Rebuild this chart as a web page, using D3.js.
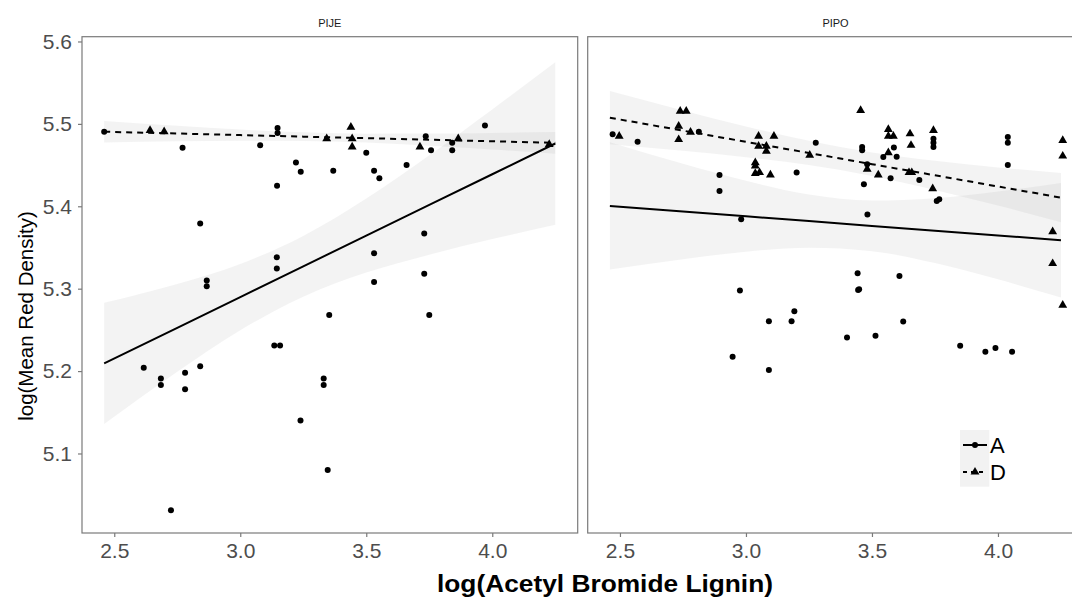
<!DOCTYPE html>
<html>
<head>
<meta charset="utf-8">
<script src="https://cdn.jsdelivr.net/npm/d3@7"></script>
<style>
  html, body { margin: 0; padding: 0; background: #fff; }
  svg { display: block; font-family: "Liberation Sans", Arial, sans-serif; }
</style>
</head>
<body>
<svg id="chart" width="1072" height="604"></svg>
<script>
// ---- data -------------------------------------------------------------
const panelNames = ["PIJE", "PIPO"];
const groupNames = ["A", "D"];
const xTickValues = [2.5, 3.0, 3.5, 4.0];
const yTickValues = [5.1, 5.2, 5.3, 5.4, 5.5, 5.6];

// PIJE observations: [log lignin, log mean red density]
const pijeA = [
  [2.460, 5.4905], [2.771, 5.471], [3.079, 5.474], [3.148, 5.495], [3.148, 5.489],
  [3.221, 5.453], [3.240, 5.442], [3.146, 5.425], [2.841, 5.379], [3.145, 5.338],
  [3.145, 5.3245], [3.500, 5.465], [3.369, 5.443], [3.531, 5.443], [3.552, 5.434],
  [3.660, 5.450], [3.736, 5.485], [3.757, 5.468], [3.841, 5.477], [3.841, 5.468],
  [3.971, 5.498], [3.730, 5.367], [3.531, 5.343], [3.730, 5.318], [2.867, 5.310],
  [2.867, 5.303], [3.353, 5.268], [3.135, 5.231], [3.158, 5.231], [2.617, 5.204],
  [2.685, 5.191], [2.685, 5.183], [2.781, 5.198], [2.781, 5.178], [2.841, 5.206],
  [3.331, 5.191], [3.331, 5.183], [3.239, 5.140], [3.347, 5.080], [2.725, 5.031],
  [3.531, 5.308], [3.750, 5.268]
];
const pijeD = [
  [2.642, 5.492], [2.698, 5.4905], [3.343, 5.482], [3.439, 5.496], [3.444, 5.482],
  [3.444, 5.472], [3.713, 5.472], [3.865, 5.482], [4.226, 5.475]
];

// PIPO observations
const pipoA = [
  [2.471, 5.4873], [2.570, 5.4784], [2.813, 5.4905], [2.895, 5.438], [2.895, 5.4185],
  [2.981, 5.3842], [3.201, 5.441], [3.277, 5.477], [3.461, 5.472], [3.461, 5.468],
  [3.481, 5.451], [3.468, 5.4267], [3.482, 5.390], [3.545, 5.4598], [3.574, 5.434],
  [3.587, 5.4712], [3.598, 5.4602], [3.688, 5.432], [3.744, 5.482], [3.744, 5.477],
  [3.744, 5.472], [3.757, 5.4064], [3.767, 5.4085], [4.039, 5.484], [4.039, 5.477],
  [4.039, 5.450], [3.443, 5.3188], [3.609, 5.3155], [3.445, 5.2985], [3.449, 5.2994],
  [3.624, 5.2603], [3.401, 5.2408], [3.514, 5.2428], [3.850, 5.2307], [3.950, 5.2234],
  [3.990, 5.2279], [4.056, 5.2234], [2.976, 5.2978], [3.192, 5.2727], [3.181, 5.2606],
  [3.091, 5.2606], [2.947, 5.2174], [3.091, 5.2012]
];
const pipoD = [
  [2.497, 5.4852], [2.739, 5.5155], [2.763, 5.5155], [2.733, 5.4973], [2.733, 5.481],
  [2.780, 5.490], [3.050, 5.4852], [3.111, 5.4852], [3.050, 5.473], [3.081, 5.473],
  [3.081, 5.467], [3.037, 5.453], [3.037, 5.449], [3.037, 5.440], [3.054, 5.441],
  [3.097, 5.438], [3.253, 5.462], [3.455, 5.5164], [3.481, 5.445], [3.525, 5.438],
  [3.565, 5.465], [3.565, 5.4933], [3.565, 5.4852], [3.585, 5.4852], [3.651, 5.488],
  [3.655, 5.474], [3.647, 5.441], [3.658, 5.441], [3.744, 5.492], [3.741, 5.4214],
  [4.257, 5.480], [4.257, 5.461], [4.217, 5.3693], [4.217, 5.3305], [4.257, 5.280]
];

// Linear fits with 95% confidence bands, sampled along x
const fitX = [2.46, 2.75, 3.0, 3.25, 3.5, 3.75, 4.0, 4.25];
const pijeAFit = [5.2093, 5.2525, 5.2898, 5.3271, 5.3644, 5.4016, 5.4389, 5.4762];
const pijeALo  = [5.1358, 5.1993, 5.2496, 5.2903, 5.3195, 5.3413, 5.3602, 5.3777];
const pijeAHi  = [5.2828, 5.3057, 5.3300, 5.3639, 5.4093, 5.4619, 5.5176, 5.5747];
const pijeDFit = [5.4905, 5.4883, 5.4864, 5.4845, 5.4827, 5.4808, 5.4789, 5.4770];
const pijeDLo  = [5.4775, 5.4788, 5.4795, 5.4793, 5.4773, 5.4734, 5.4688, 5.4639];
const pijeDHi  = [5.5035, 5.4978, 5.4933, 5.4897, 5.4881, 5.4882, 5.4890, 5.4901];
const pipoAFit = [5.4004, 5.3937, 5.3879, 5.3820, 5.3762, 5.3704, 5.3646, 5.3588];
const pipoALo  = [5.3232, 5.3358, 5.3449, 5.3497, 5.3455, 5.3311, 5.3113, 5.2892];
const pipoAHi  = [5.4776, 5.4516, 5.4309, 5.4143, 5.4069, 5.4097, 5.4179, 5.4284];
const pipoDFit = [5.5075, 5.4918, 5.4782, 5.4647, 5.4511, 5.4376, 5.4240, 5.4105];
const pipoDLo  = [5.4752, 5.4673, 5.4595, 5.4500, 5.4368, 5.4199, 5.4008, 5.3807];
const pipoDHi  = [5.5398, 5.5163, 5.4969, 5.4794, 5.4654, 5.4553, 5.4472, 5.4403];

const panelData = {
  PIJE: {
    points: { A: pijeA, D: pijeD },
    fits: { A: [pijeAFit, pijeALo, pijeAHi], D: [pijeDFit, pijeDLo, pijeDHi] }
  },
  PIPO: {
    points: { A: pipoA, D: pipoD },
    fits: { A: [pipoAFit, pipoALo, pipoAHi], D: [pipoDFit, pipoDLo, pipoDHi] }
  }
};

// ---- layout -----------------------------------------------------------
const svg = d3.select("#chart");
const W = 1072, H = 604;
svg.append("rect").attr("width", W).attr("height", H).attr("fill", "#fff");

const panelTop = 36.7, panelBottom = 533;
const panelWidth = 495.7;
const panelLefts = [82, 587.7];
const xDomain = [2.372, 4.339];
const yDomain = [5.0035, 5.6058];

const y = d3.scaleLinear().domain(yDomain).range([panelBottom, panelTop]);
const axisGrey = "#7a7a7a";
const tickText = "#4d4d4d";

const lineStyle = { A: null, D: "6,5" };
const triangle = d3.symbol().type(d3.symbolTriangle).size(34);

panelNames.forEach((name, i) => {
  const left = panelLefts[i];
  const x = d3.scaleLinear().domain(xDomain).range([left, left + panelWidth]);
  const g = svg.append("g");
  const pd = panelData[name];

  // strip label
  g.append("text")
    .attr("x", left + panelWidth / 2).attr("y", 27)
    .attr("text-anchor", "middle")
    .attr("font-size", 11).attr("fill", "#1a1a1a")
    .text(name);

  const clipId = "clip" + i;
  svg.append("clipPath").attr("id", clipId)
    .append("rect").attr("x", left).attr("y", panelTop)
    .attr("width", panelWidth).attr("height", panelBottom - panelTop);

  const plot = g.append("g").attr("clip-path", `url(#${clipId})`);

  // confidence bands
  groupNames.forEach(grp => {
    const [fit, lo, hi] = pd.fits[grp];
    const area = d3.area()
      .x((d, k) => x(fitX[k]))
      .y0((d, k) => y(lo[k]))
      .y1((d, k) => y(hi[k]))
      .curve(d3.curveMonotoneX);
    plot.append("path").datum(fitX)
      .attr("d", area)
      .attr("fill", "#999").attr("fill-opacity", 0.12);
  });

  // points
  plot.append("g").selectAll("circle").data(pd.points.A).join("circle")
    .attr("cx", d => x(d[0])).attr("cy", d => y(d[1]))
    .attr("r", 3).attr("fill", "#000");
  plot.append("g").selectAll("path").data(pd.points.D).join("path")
    .attr("transform", d => `translate(${x(d[0])},${y(d[1])})`)
    .attr("d", triangle).attr("fill", "#000");

  // fitted lines
  groupNames.forEach(grp => {
    const fit = pd.fits[grp][0];
    const line = d3.line().x((d, k) => x(fitX[k])).y((d, k) => y(fit[k]));
    plot.append("path").datum(fitX)
      .attr("d", line)
      .attr("fill", "none").attr("stroke", "#000").attr("stroke-width", 2)
      .attr("stroke-dasharray", lineStyle[grp]);
  });

  // panel border
  g.append("rect")
    .attr("x", left).attr("y", panelTop)
    .attr("width", panelWidth).attr("height", panelBottom - panelTop)
    .attr("fill", "none").attr("stroke", axisGrey).attr("stroke-width", 1.2);

  // x axis
  const xAxis = d3.axisBottom(x).tickValues(xTickValues)
    .tickFormat(d3.format(".1f")).tickSize(4).tickPadding(6);
  const xg = g.append("g").attr("transform", `translate(0,${panelBottom})`).call(xAxis);
  xg.select(".domain").remove();
  xg.selectAll(".tick line").attr("stroke", axisGrey).attr("stroke-width", 1.2);
  xg.selectAll(".tick text").attr("fill", tickText).attr("font-size", 21)
    .attr("font-family", "Liberation Sans, Arial, sans-serif");

  if (i === 0) {
    const yAxis = d3.axisLeft(y).tickValues(yTickValues)
      .tickFormat(d3.format(".1f")).tickSize(4).tickPadding(6);
    const yg = g.append("g").attr("transform", `translate(${left},0)`).call(yAxis);
    yg.select(".domain").remove();
    yg.selectAll(".tick line").attr("stroke", axisGrey).attr("stroke-width", 1.2);
    yg.selectAll(".tick text").attr("fill", tickText).attr("font-size", 21)
      .attr("font-family", "Liberation Sans, Arial, sans-serif");
  }

  // legend inside PIPO panel
  if (name === "PIPO") {
    const lg = g.append("g");
    lg.append("rect").attr("x", 960).attr("y", 430).attr("width", 29.3).attr("height", 56.7)
      .attr("fill", "#f2f2f2");
    const rows = [{ grp: "A", cy: 445 }, { grp: "D", cy: 472 }];
    rows.forEach(r => {
      lg.append("line").attr("x1", 963).attr("x2", 987).attr("y1", r.cy).attr("y2", r.cy)
        .attr("stroke", "#000").attr("stroke-width", 2)
        .attr("stroke-dasharray", r.grp === "D" ? "4,4" : null);
      if (r.grp === "A") {
        lg.append("circle").attr("cx", 975).attr("cy", r.cy).attr("r", 3).attr("fill", "#000");
      } else {
        lg.append("path").attr("transform", `translate(975,${r.cy})`).attr("d", triangle).attr("fill", "#000");
      }
      lg.append("text").attr("x", 990).attr("y", r.cy + 8)
        .attr("font-size", 22).attr("fill", "#000").text(r.grp);
    });
  }
});

// axis titles
svg.append("text")
  .attr("x", 605).attr("y", 592)
  .attr("text-anchor", "middle")
  .attr("font-size", 24).attr("font-weight", "bold").attr("fill", "#000")
  .attr("textLength", 336).attr("lengthAdjust", "spacingAndGlyphs")
  .text("log(Acetyl Bromide Lignin)");

svg.append("text")
  .attr("transform", "translate(33,316) rotate(-90)")
  .attr("text-anchor", "middle")
  .attr("font-size", 20.5).attr("fill", "#000")
  .text("log(Mean Red Density)");
</script>
</body>
</html>
